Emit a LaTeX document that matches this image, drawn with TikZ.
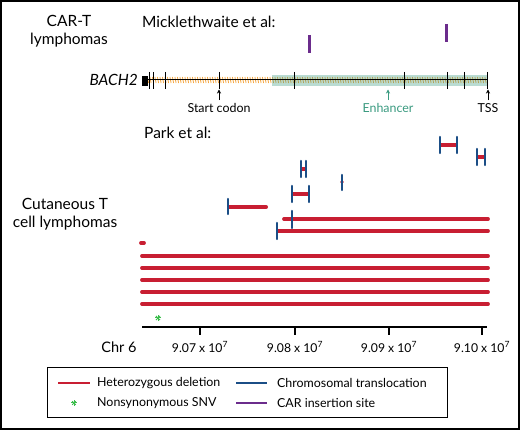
\documentclass[tikz,border=0pt]{standalone}
\usepackage{fontspec}
\setmainfont{Lato}
\usetikzlibrary{arrows.meta}
\definecolor{delred}{HTML}{C81E32}
\definecolor{trblue}{HTML}{1B4E86}
\definecolor{carpurple}{HTML}{6B2C8C}
\definecolor{snvgreen}{HTML}{3DBE4E}
\definecolor{enhteal}{HTML}{3A9A80}
\definecolor{hatchorange}{HTML}{F4A640}
\begin{document}
\begin{tikzpicture}[x=1pt,y=-1pt,
  del/.style={line width=3.8pt, line cap=round, draw=delred},
  trl/.style={line width=2.5pt, line cap=round, draw=trblue},
  car/.style={line width=3pt, draw=carpurple},
  snv/.style={line width=1pt, draw=snvgreen},
  exon/.style={line width=0.9pt, draw=black},
  big/.style={font=\fontsize{15.5}{18}\selectfont, inner sep=0pt, align=center},
  small/.style={font=\fontsize{12.4}{14}\selectfont, inner sep=0pt},
  tick/.style={line width=1.4pt, draw=black},
  lbl/.style={-{Stealth[length=4pt,width=4pt]}, line width=0.8pt},
]
\useasboundingbox (0,0) rectangle (520,430);
\draw[line width=2.4pt] (1.2,1.2) rectangle (518.8,428.8);

% --- titles
\node[big] (cart) at (69,31) {CAR-T\\lymphomas};
\node[big, anchor=west] (mick) at (142,22) {Micklethwaite et al:};
\node[big, anchor=west] (park) at (144,133) {Park et al:};
\node[big] (ctcl) at (65,214) {Cutaneous T\\cell lymphomas};

% --- CAR insertion sites
\draw[car] (309,35) -- (309,53);
\draw[car] (446,24) -- (446,42);

% --- gene
\node[big, anchor=east, font=\fontsize{15.5}{18}\selectfont\itshape] (bach) at (138,80) {BACH2};
\foreach \x in {148,150.5,...,487} \draw[hatchorange, line width=0.8pt] (\x-0.6,77) -- (\x+0.6,83);
\fill[enhteal, opacity=0.35] (272,75) rectangle (487,86);
\draw[line width=1pt] (143,80) -- (487,80);
\fill (142,76) rectangle (147.5,86);
\foreach \x in {149,153,165,219,294,404,447,464,487} \draw[exon] (\x,72) -- (\x,89);

\node[small] (start) at (219,108) {Start codon};
\node[small, text=enhteal] (enh) at (388,108) {Enhancer};
\node[small] (tss) at (488,108) {TSS};
\coordinate (startp) at (219,89.5);
\coordinate (enhp) at (388,89.5);
\coordinate (tssp) at (488,89.5);
\draw[lbl] (start.north) ++(0,-3) -- (startp);
\draw[lbl, enhteal] (enh.north) ++(0,-3) -- (enhp);
\draw[lbl] (tss.north) ++(0,-3) -- (tssp);

% --- Park et al. events
% H-shaped (deletion bounded by translocations)
\foreach \a/\b/\y in {440/457/145, 477/485/157, 301/306/169, 292/309/194}{
  \draw[delred, line width=3.8pt] (\a,\y) -- (\b,\y);
  \draw[trl] (\a,\y-8) -- (\a,\y+8);
  \draw[trl] (\b,\y-8) -- (\b,\y+8);
}
\fill[delred] (342,182) circle (1.8);
\draw[trl] (342,175) -- (342,190);

\draw[delred, line width=3.8pt] (228,207) -- (266,207);
\draw[del] (266,207) -- (266.1,207);
\draw[trl] (228,199) -- (228,214);

\draw[del] (284,219) -- (488,219);
\draw[trl] (292,211) -- (292,228);
\draw[delred, line width=3.8pt] (277,231) -- (486,231);
\draw[del] (486,231) -- (488,231);
\draw[trl] (277,223) -- (277,239);

\draw[del] (141,243) -- (144,243);
\foreach \y in {256,268,280,292,304} \draw[del] (142,\y) -- (488,\y);

% SNV star
\foreach \a in {0,45,90,135} \draw[snv] (158,318) ++(\a:3) -- ++(\a+180:6);

% --- axis
\draw[line width=1.3pt] (142,327) -- (487,327);
\foreach \x/\t in {200/9.07, 295/9.08, 389/9.09, 482/9.10}{
  \draw[tick] (\x,327) -- (\x,335);
  \node[small, font=\fontsize{12.2}{14}\selectfont] at (\x,347) {\t\ x 10\textsuperscript{7}};
}
\node[big, font=\fontsize{14.5}{16}\selectfont] (chr) at (119,347) {Chr 6};

% --- legend
\draw[line width=1pt] (47,368) rectangle (447,418);
\draw[delred, line width=2.6pt] (58,383) -- (90,383);
\node[small, anchor=west] (l1) at (97,383) {Heterozygous deletion};
\foreach \a in {0,45,90,135} \draw[snv] (74,403) ++(\a:2.6) -- ++(\a+180:5.2);
\node[small, anchor=west] (l2) at (97,403) {Nonsynonymous SNV};
\draw[trblue, line width=2.6pt] (236,383) -- (267,383);
\node[small, anchor=west] (l3) at (277,383) {Chromosomal translocation};
\draw[carpurple, line width=2.6pt] (236,403) -- (267,403);
\node[small, anchor=west] (l4) at (277,403) {CAR insertion site};
\end{tikzpicture}
\end{document}
